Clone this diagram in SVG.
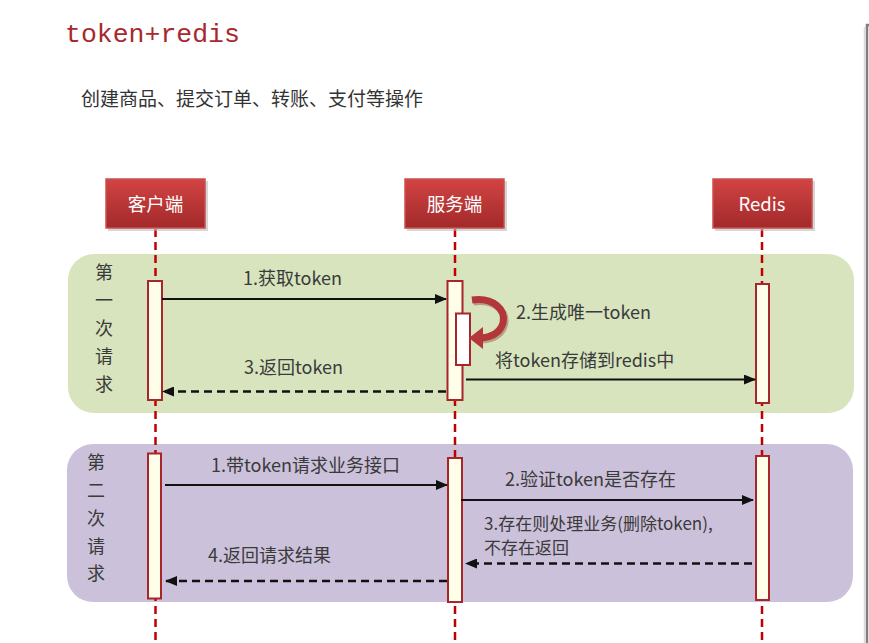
<svg xmlns="http://www.w3.org/2000/svg" width="869" height="643" viewBox="0 0 869 643">
<defs>
<linearGradient id="hdr" x1="0" y1="0" x2="0" y2="1">
<stop offset="0" stop-color="#D24443"/>
<stop offset="1" stop-color="#A2292A"/>
</linearGradient>
<marker id="ah" markerWidth="12" markerHeight="10" refX="11" refY="5" orient="auto" markerUnits="userSpaceOnUse">
<path d="M0,0 L12,5 L0,10 Z" fill="#111"/>
</marker>
</defs>
<style>
.t{font-family:"Noto Sans CJK SC","Noto Sans",sans-serif;fill:#3a3a3a;font-size:18px}
.s{font-size:17px}
.h{font-family:"Noto Sans CJK SC","Noto Sans",sans-serif;fill:#fff;font-size:18.5px;text-anchor:middle}
.box{fill:url(#hdr);stroke:#C9504E;stroke-width:1.5}
.sh{fill:#bbb;opacity:0.6}
.life{stroke:#C00000;stroke-width:2.5;stroke-dasharray:8 5;fill:none}
.bar{fill:#FFFFE9;stroke:#A8262A;stroke-width:2}
.sol{stroke:#111;stroke-width:2;fill:none;marker-end:url(#ah)}
.dsh{stroke:#111;stroke-width:2.5;stroke-dasharray:8 5;fill:none;marker-end:url(#ah)}
</style>
<rect width="869" height="643" fill="#fff"/>
<path d="M869,25 H867 V643" fill="none" stroke="#7f7f7f" stroke-width="2.5"/>
<line x1="864.5" y1="27" x2="864.5" y2="643" stroke="#d9d9d9" stroke-width="1.5"/>

<text x="65" y="42" font-family="'Liberation Mono', monospace" font-size="26.5" fill="#A8282E">token+redis</text>
<text x="81" y="106" font-family="'Noto Sans CJK SC', sans-serif" font-size="19" fill="#333">创建商品、提交订单、转账、支付等操作</text>

<g id="panel1">
<rect x="68" y="254" width="786" height="159" rx="26" fill="#D7E4BD"/>
<text class="t" x="104" text-anchor="middle"><tspan x="104" y="279">第</tspan><tspan x="104" y="307">一</tspan><tspan x="104" y="335">次</tspan><tspan x="104" y="363">请</tspan><tspan x="104" y="391">求</tspan></text>
</g>
<g id="panel2">
<rect x="67" y="444" width="786" height="158" rx="26" fill="#CCC1DA"/>
<text class="t" x="96" text-anchor="middle"><tspan x="96" y="469">第</tspan><tspan x="96" y="497">二</tspan><tspan x="96" y="525">次</tspan><tspan x="96" y="553">请</tspan><tspan x="96" y="580">求</tspan></text>
</g>

<g id="lifelines">
<line class="life" x1="155.5" y1="229" x2="155.5" y2="643"/>
<line class="life" x1="455" y1="229" x2="455" y2="643"/>
<line class="life" x1="762" y1="229" x2="762" y2="643"/>
</g>

<g id="client">
<rect class="sh" x="108" y="181" width="100" height="50"/>
<rect class="box" x="106" y="179" width="99" height="49"/>
<text class="h" x="155.5" y="211">客户端</text>
</g>
<g id="server">
<rect class="sh" x="407" y="181" width="100" height="50"/>
<rect class="box" x="405" y="179" width="99" height="49"/>
<text class="h" x="454.5" y="211">服务端</text>
</g>
<g id="redis">
<rect class="sh" x="715" y="181" width="100" height="50"/>
<rect class="box" x="713" y="179" width="99" height="49"/>
<text class="h" x="762" y="211">Redis</text>
</g>

<g id="bars">
<rect class="bar" x="148" y="281" width="14" height="119"/>
<rect class="bar" x="447.5" y="281" width="15" height="119"/>
<rect class="bar" x="456" y="313.5" width="14" height="51.5" style="fill:#fff"/>
<rect class="bar" x="756" y="284" width="13" height="119"/>
<rect class="bar" x="148" y="453.5" width="13" height="145"/>
<rect class="bar" x="448" y="458" width="14" height="144"/>
<rect class="bar" x="756" y="456" width="13" height="144"/>
</g>

<g id="connectors">
<line class="sol" x1="162" y1="299" x2="446" y2="299"/>
<line class="dsh" x1="446" y1="391.5" x2="163" y2="391.5"/>
<path d="M472,300 C494,297 506,310 503,323 C500,333 492,337 481,338" fill="none" stroke="#7a1f1f" stroke-width="7" opacity="0.35" transform="translate(1.5,2)"/>
<path d="M472,300 C494,297 506,310 503,323 C500,333 492,337 481,338" fill="none" stroke="#B3363A" stroke-width="7"/>
<polygon points="469,338 483,327 483,349" fill="#B3363A"/>
<line class="sol" x1="466" y1="379.5" x2="755" y2="379.5"/>
<line class="sol" x1="165" y1="485" x2="447" y2="485"/>
<line class="sol" x1="461" y1="500" x2="753" y2="500"/>
<line class="dsh" x1="752" y1="563.5" x2="466" y2="563.5"/>
<line class="dsh" x1="447" y1="581" x2="166" y2="581"/>
</g>

<g id="labels">
<text class="t" x="243" y="285">1.获取token</text>
<text class="t" x="244" y="374">3.返回token</text>
<text class="t" x="516" y="319">2.生成唯一token</text>
<text class="t" x="495" y="367">将token存储到redis中</text>
<text class="t" x="211" y="472">1.带token请求业务接口</text>
<text class="t" x="505" y="486">2.验证token是否存在</text>
<text class="t s" x="484" y="530">3.存在则处理业务(删除token),</text>
<text class="t s" x="484" y="554">不存在返回</text>
<text class="t" x="208" y="562">4.返回请求结果</text>
</g>
</svg>
